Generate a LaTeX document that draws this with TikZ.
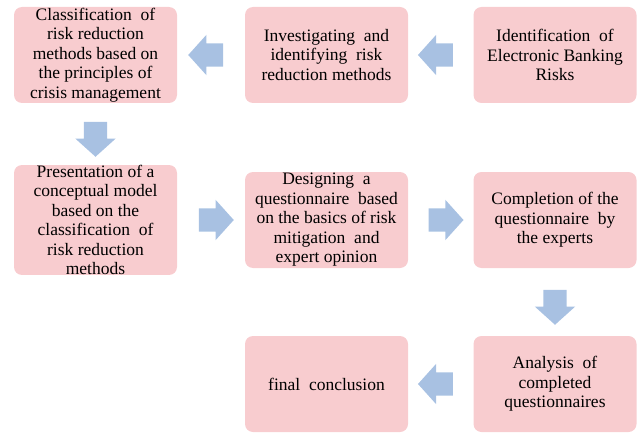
\documentclass[tikz,border=0pt]{standalone}
\usepackage{fontspec}
\setmainfont{Liberation Serif}
\usetikzlibrary{shapes.arrows,calc}

\begin{document}
\begin{tikzpicture}[x=1pt,y=1pt,
  stepbox/.style={fill=boxpink,rounded corners=8pt,minimum width=163pt,minimum height=96pt,inner sep=0pt,align=center,font=\rmfamily\fontsize{17.5}{19.5}\selectfont},
  flowarrow/.style={single arrow,fill=arrowblue,draw=none,inner xsep=0pt,inner ysep=11.5pt,minimum height=35pt,minimum width=40pt,single arrow head extend=8.5pt,single arrow tip angle=96},
  downarrow/.style={flowarrow,inner xsep=11.5pt,inner ysep=0pt,shape border rotate=270}]
% Define colours
\definecolor{boxpink}{RGB}{248,204,207}
\definecolor{arrowblue}{RGB}{168,193,226}

\useasboundingbox (0,0) rectangle (637,432);

% Draw the steps
\node[stepbox] (classify) at (95.5,377) {Classification\ \ of\\risk reduction\\methods based on\\the principles of\\crisis management};
\node[stepbox] (investigate) at (326.5,377) {Investigating\ \ and\\identifying\ \ risk\\reduction methods};
\node[stepbox] (identify) at (555,377) {Identification\ \ of\\Electronic\ Banking\\Risks};
\node[stepbox] (model) at (95.5,212) {Presentation of a\\conceptual model\\based on the\\classification\ \ of\\risk reduction\\methods};
\node[stepbox] (design) at (326.5,212) {Designing\ \ a\\questionnaire\ \ based\\on the\ basics of risk\\mitigation\ \ and\\expert opinion};
\node[stepbox] (complete) at (555,212) {Completion of the\\questionnaire\ \ by\\the experts};
\node[stepbox] (final) at (326.5,48) {final\ \ conclusion};
\node[stepbox] (analysis) at (555,48) {Analysis\ \ of\\completed\\questionnaires};

% Add arrows between steps
\node[flowarrow,shape border rotate=180] (a1) at ($(identify.west)!0.5!(investigate.east)$) {};
\node[flowarrow,shape border rotate=180] (a2) at ($(investigate.west)!0.5!(classify.east)$) {};
\node[downarrow] (a3) at ($(classify.south)!0.5!(model.north)$) {};
\node[flowarrow] (a4) at ($(model.east)!0.5!(design.west)$) {};
\node[flowarrow] (a5) at ($(design.east)!0.5!(complete.west)$) {};
\node[downarrow] (a6) at ($(complete.south)!0.5!(analysis.north)$) {};
\node[flowarrow,shape border rotate=180] (a7) at ($(analysis.west)!0.5!(final.east)$) {};
\end{tikzpicture}
\end{document}
